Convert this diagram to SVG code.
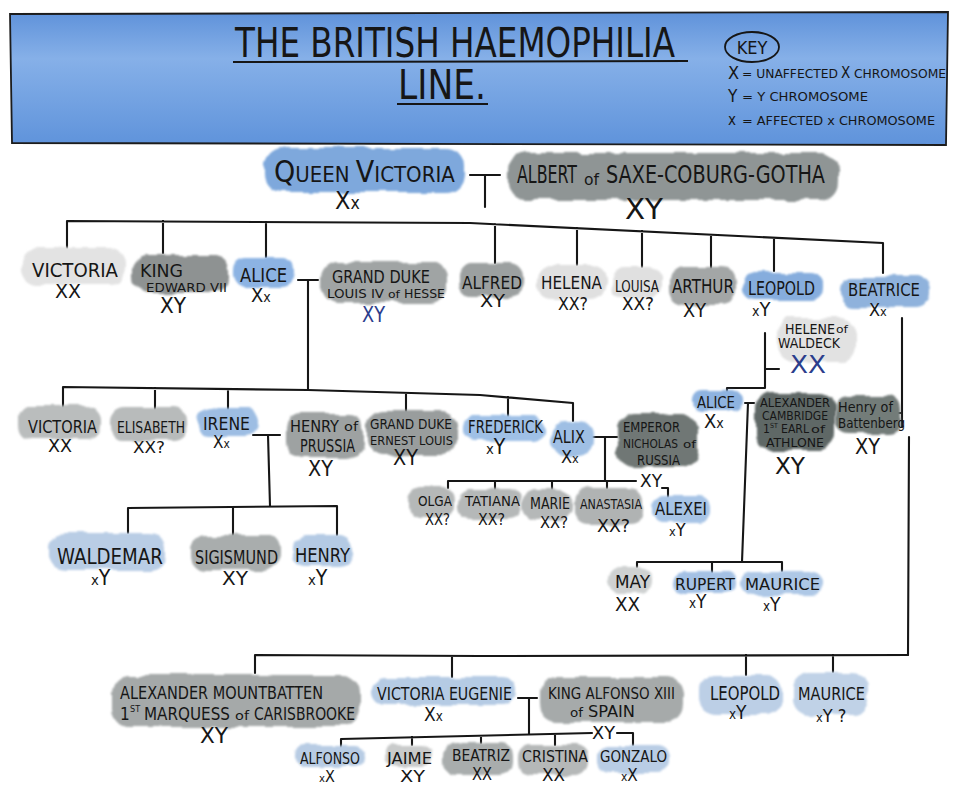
<svg xmlns="http://www.w3.org/2000/svg" width="956" height="787" viewBox="0 0 956 787">
<defs>
<linearGradient id="hdr" x1="0" y1="0" x2="0" y2="1">
<stop offset="0" stop-color="#5f92da"/>
<stop offset="0.35" stop-color="#86b0e8"/>
<stop offset="0.6" stop-color="#77a5e3"/>
<stop offset="1" stop-color="#5f93db"/>
</linearGradient>
<filter id="wc" x="-10%" y="-25%" width="120%" height="150%">
<feTurbulence type="fractalNoise" baseFrequency="0.045" numOctaves="2" seed="7" result="n"/>
<feDisplacementMap in="SourceGraphic" in2="n" scale="8" xChannelSelector="R" yChannelSelector="G" result="d"/>
<feGaussianBlur in="d" stdDeviation="0.9"/>
</filter>
</defs>
<style>
text{font-family:"DejaVu Sans Condensed","DejaVu Sans","Liberation Sans",sans-serif;fill:#161616;}
.b{filter:url(#wc);}
.sm{font-size:70%;}
.bl{fill:#2b3d8c;}
.c path{fill:none;stroke:#161616;stroke-width:2.1;stroke-linecap:round;stroke-linejoin:round;}
</style>
<rect width="956" height="787" fill="#ffffff"/>

<g id="header">
<path d="M10,14 L948,12 L946,145 L12,143 Z" fill="url(#hdr)" stroke="#1c1c1c" stroke-width="1.8"/>
<text x="235" y="57" font-size="40" textLength="440" lengthAdjust="spacingAndGlyphs">THE BRITISH HAEMOPHILIA</text>
<path d="M233,62 L688,61" stroke="#161616" stroke-width="2" fill="none"/>
<text x="398" y="99" font-size="40" textLength="88" lengthAdjust="spacingAndGlyphs">LINE.</text>
<path d="M397,104 L488,104" stroke="#161616" stroke-width="2" fill="none"/>
<ellipse cx="752" cy="47" rx="27" ry="15" fill="none" stroke="#161616" stroke-width="1.8"/>
<text x="752" y="54" font-size="18" text-anchor="middle">KEY</text>
<text x="728" y="79" font-size="18">X</text>
<text x="742" y="78" font-size="12" textLength="96" lengthAdjust="spacingAndGlyphs">= UNAFFECTED</text>
<text x="841" y="78" font-size="15">X</text>
<text x="854" y="78" font-size="12" textLength="92" lengthAdjust="spacingAndGlyphs">CHROMOSOME</text>
<text x="728" y="102" font-size="17">Y</text>
<text x="742" y="101" font-size="12" textLength="126" lengthAdjust="spacingAndGlyphs">= Y CHROMOSOME</text>
<text x="728" y="125" font-size="15">x</text>
<text x="742" y="125" font-size="12" textLength="193" lengthAdjust="spacingAndGlyphs">= AFFECTED x CHROMOSOME</text>
</g>

<g id="connectors" class="c">
<path d="M470,175 H500 M485,175 V207"/>
<path d="M67,248 V221 L470,223 L883,243 V273 M163,221 V253 M266,222 V257 M495,224 V263 M577,228 V265 M642,231 V267 M711,235 V268 M774,238 V271"/>
<path d="M298,280 H318 M308,280 V390"/>
<path d="M63,407 V387 L308,390 L480,395 L573,403 V421 M155,388 V409 M228,389 V409 M406,393 V411 M508,397 V416"/>
<path d="M253,435 H280 M268,435 L270,506"/>
<path d="M128,533 V508 L337,506 V535 M233,507 V535"/>
<path d="M593,437 H617 M605,437 V481"/>
<path d="M448,488 V481 H636 M495,481 V489 M552,481 V489 M607,481 V488 M662,488 H668 V497"/>
<path d="M765,333 V388 H727 V391 M765,369 H779"/>
<path d="M745,403 H754 M748,403 L742,562 M637,567 V562 H782 V571 M712,562 V572"/>
<path d="M902,318 V427 M895,413 H902 M909,437 L908,655"/>
<path d="M255,673 V655 L480,656 L908,655 M452,656 V677 M746,655 V675 M833,655 V672"/>
<path d="M518,698 H537 M529,698 V734"/>
<path d="M341,750 V739 L592,733 M412,737 V745 M481,736 V743 M555,735 V745 M617,733 H633 V745"/>
</g>

<g id="queen-victoria">
<rect class="b" x="265" y="148" width="200" height="44" rx="18" fill="#7ea8dc"/>
<text x="274" y="182" font-size="22"><tspan font-size="30">Q</tspan>UEEN <tspan font-size="30">V</tspan>ICTORIA</text>
<text x="335" y="209" font-size="25">X<tspan class="sm">x</tspan></text>
</g>
<g id="albert">
<rect class="b" x="508" y="153" width="330" height="47" rx="18" fill="#8f9595"/>
<text x="517" y="183" font-size="25" textLength="60" lengthAdjust="spacingAndGlyphs">ALBERT</text>
<text x="584" y="185" font-size="16" textLength="15" lengthAdjust="spacingAndGlyphs">of</text>
<text x="606" y="183" font-size="25" textLength="219" lengthAdjust="spacingAndGlyphs">SAXE-COBURG-GOTHA</text>
<text x="625" y="219" font-size="29" textLength="38" lengthAdjust="spacingAndGlyphs">XY</text>
</g>

<g id="victoria-1">
<rect class="b" x="22" y="247" width="104" height="38" rx="16" fill="#e3e3e3"/>
<text x="32" y="277" font-size="19" textLength="86" lengthAdjust="spacingAndGlyphs">VICTORIA</text>
<text x="55" y="298" font-size="19" textLength="26" lengthAdjust="spacingAndGlyphs">XX</text>
</g>
<g id="edward-vii">
<rect class="b" x="133" y="255" width="95" height="38" rx="15" fill="#8e9292"/>
<text x="140" y="277" font-size="18" textLength="43" lengthAdjust="spacingAndGlyphs">KING</text>
<text x="146" y="292" font-size="13" textLength="81" lengthAdjust="spacingAndGlyphs">EDWARD VII</text>
<text x="160" y="313" font-size="21" textLength="26" lengthAdjust="spacingAndGlyphs">XY</text>
</g>
<g id="alice-1">
<rect class="b" x="233" y="257" width="62" height="30" rx="13" fill="#8cb3e3"/>
<text x="240" y="282" font-size="19" textLength="47" lengthAdjust="spacingAndGlyphs">ALICE</text>
<text x="251" y="302" font-size="20">X<tspan class="sm">x</tspan></text>
</g>
<g id="louis-iv">
<rect class="b" x="322" y="262" width="125" height="41" rx="16" fill="#a0a4a4"/>
<text x="332" y="283" font-size="18" textLength="98" lengthAdjust="spacingAndGlyphs">GRAND DUKE</text>
<text x="327" y="298" font-size="13" textLength="57" lengthAdjust="spacingAndGlyphs">LOUIS IV</text>
<text x="388" y="298" font-size="11" textLength="12" lengthAdjust="spacingAndGlyphs">of</text>
<text x="404" y="298" font-size="13" textLength="41" lengthAdjust="spacingAndGlyphs">HESSE</text>
<text class="bl" x="362" y="322" font-size="21" textLength="23" lengthAdjust="spacingAndGlyphs">XY</text>
</g>
<g id="alfred">
<rect class="b" x="458" y="263" width="66" height="34" rx="14" fill="#9ca0a0"/>
<text x="462" y="289" font-size="18" textLength="60" lengthAdjust="spacingAndGlyphs">ALFRED</text>
<text x="480" y="307" font-size="18" textLength="25" lengthAdjust="spacingAndGlyphs">XY</text>
</g>
<g id="helena">
<rect class="b" x="537" y="265" width="68" height="34" rx="14" fill="#e0e0e0"/>
<text x="541" y="289" font-size="18" textLength="61" lengthAdjust="spacingAndGlyphs">HELENA</text>
<text x="558" y="310" font-size="17" textLength="30" lengthAdjust="spacingAndGlyphs">XX?</text>
</g>
<g id="louisa">
<rect class="b" x="611" y="267" width="50" height="32" rx="13" fill="#e0e0e0"/>
<text x="615" y="292" font-size="15" textLength="44" lengthAdjust="spacingAndGlyphs">LOUISA</text>
<text x="622" y="310" font-size="17" textLength="32" lengthAdjust="spacingAndGlyphs">XX?</text>
</g>
<g id="arthur">
<rect class="b" x="669" y="267" width="67" height="38" rx="15" fill="#a3a6a6"/>
<text x="672" y="293" font-size="19" textLength="62" lengthAdjust="spacingAndGlyphs">ARTHUR</text>
<text x="683" y="317" font-size="20" textLength="23" lengthAdjust="spacingAndGlyphs">XY</text>
</g>
<g id="leopold-1">
<rect class="b" x="743" y="272" width="80" height="28" rx="12" fill="#86addd"/>
<text x="748" y="295" font-size="19" textLength="67" lengthAdjust="spacingAndGlyphs">LEOPOLD</text>
<text x="752" y="316" font-size="20"><tspan class="sm">x</tspan>Y</text>
</g>
<g id="beatrice">
<rect class="b" x="840" y="277" width="90" height="30" rx="13" fill="#8fb2dc"/>
<text x="848" y="296" font-size="18" textLength="72" lengthAdjust="spacingAndGlyphs">BEATRICE</text>
<text x="869" y="316" font-size="18">X<tspan class="sm">x</tspan></text>
</g>

<g id="helene-of-waldeck">
<rect class="b" x="777" y="318" width="80" height="44" rx="16" fill="#e2e2e2"/>
<text x="785" y="334" font-size="14" textLength="50" lengthAdjust="spacingAndGlyphs">HELENE</text>
<text x="836" y="333" font-size="11" textLength="12" lengthAdjust="spacingAndGlyphs">of</text>
<text x="778" y="348" font-size="14" textLength="62" lengthAdjust="spacingAndGlyphs">WALDECK</text>
<text class="bl" x="790" y="373" font-size="25" font-weight="300" textLength="36" lengthAdjust="spacingAndGlyphs">XX</text>
</g>
<g id="alice-2">
<rect class="b" x="692" y="389" width="52" height="23" rx="11" fill="#8eb3e0"/>
<text x="697" y="408" font-size="16" textLength="38" lengthAdjust="spacingAndGlyphs">ALICE</text>
<text x="704" y="428" font-size="20">X<tspan class="sm">x</tspan></text>
</g>
<g id="alexander-cambridge">
<rect class="b" x="755" y="393" width="80" height="57" rx="16" fill="#5f6866"/>
<text x="760" y="407" font-size="12" textLength="70" lengthAdjust="spacingAndGlyphs">ALEXANDER</text>
<text x="762" y="420" font-size="12" textLength="66" lengthAdjust="spacingAndGlyphs">CAMBRIDGE</text>
<text x="763" y="433" font-size="12">1</text>
<text x="770" y="428" font-size="7">ST</text>
<text x="781" y="433" font-size="12" textLength="28" lengthAdjust="spacingAndGlyphs">EARL</text>
<text x="811" y="433" font-size="10" textLength="14" lengthAdjust="spacingAndGlyphs">of</text>
<text x="766" y="447" font-size="12" textLength="58" lengthAdjust="spacingAndGlyphs">ATHLONE</text>
<text x="775" y="474" font-size="23" textLength="30" lengthAdjust="spacingAndGlyphs">XY</text>
</g>
<g id="henry-of-battenberg">
<rect class="b" x="835" y="395" width="67" height="38" rx="14" fill="#737b79"/>
<text x="838" y="412" font-size="14" textLength="55" lengthAdjust="spacingAndGlyphs">Henry of</text>
<text x="838" y="428" font-size="14" textLength="67" lengthAdjust="spacingAndGlyphs">Battenberg</text>
<text x="855" y="454" font-size="21" textLength="25" lengthAdjust="spacingAndGlyphs">XY</text>
</g>

<g id="victoria-2">
<rect class="b" x="18" y="405" width="82" height="34" rx="14" fill="#babdbd"/>
<text x="28" y="433" font-size="17" textLength="69" lengthAdjust="spacingAndGlyphs">VICTORIA</text>
<text x="48" y="452" font-size="17" textLength="24" lengthAdjust="spacingAndGlyphs">XX</text>
</g>
<g id="elisabeth">
<rect class="b" x="110" y="407" width="77" height="34" rx="14" fill="#b8bbbb"/>
<text x="117" y="433" font-size="16" textLength="68" lengthAdjust="spacingAndGlyphs">ELISABETH</text>
<text x="133" y="453" font-size="16" textLength="32" lengthAdjust="spacingAndGlyphs">XX?</text>
</g>
<g id="irene">
<rect class="b" x="198" y="408" width="60" height="28" rx="12" fill="#9dbde3"/>
<text x="203" y="430" font-size="17" textLength="47" lengthAdjust="spacingAndGlyphs">IRENE</text>
<text x="213" y="448" font-size="17">X<tspan class="sm">x</tspan></text>
</g>
<g id="henry-of-prussia">
<rect class="b" x="287" y="413" width="76" height="44" rx="15" fill="#9ea2a2"/>
<text x="290" y="432" font-size="16" textLength="49" lengthAdjust="spacingAndGlyphs">HENRY</text>
<text x="344" y="431" font-size="13" textLength="14" lengthAdjust="spacingAndGlyphs">of</text>
<text x="300" y="452" font-size="17" textLength="55" lengthAdjust="spacingAndGlyphs">PRUSSIA</text>
<text x="308" y="476" font-size="21" textLength="25" lengthAdjust="spacingAndGlyphs">XY</text>
</g>
<g id="ernest-louis">
<rect class="b" x="367" y="410" width="90" height="45" rx="16" fill="#999d9d"/>
<text x="370" y="429" font-size="14" textLength="82" lengthAdjust="spacingAndGlyphs">GRAND DUKE</text>
<text x="370" y="445" font-size="13" textLength="83" lengthAdjust="spacingAndGlyphs">ERNEST LOUIS</text>
<text x="393" y="465" font-size="21" textLength="25" lengthAdjust="spacingAndGlyphs">XY</text>
</g>
<g id="frederick">
<rect class="b" x="463" y="416" width="81" height="25" rx="11" fill="#9fc0e6"/>
<text x="468" y="433" font-size="17" textLength="75" lengthAdjust="spacingAndGlyphs">FREDERICK</text>
<text x="486" y="454" font-size="21"><tspan class="sm">x</tspan>Y</text>
</g>
<g id="alix">
<rect class="b" x="550" y="422" width="43" height="33" rx="14" fill="#9fbfe4"/>
<text x="553" y="443" font-size="18" textLength="32" lengthAdjust="spacingAndGlyphs">ALIX</text>
<text x="561" y="463" font-size="18">X<tspan class="sm">x</tspan></text>
</g>
<g id="nicholas-ii">
<rect class="b" x="618" y="413" width="79" height="54" rx="16" fill="#6f7775"/>
<text x="623" y="432" font-size="14" textLength="57" lengthAdjust="spacingAndGlyphs">EMPEROR</text>
<text x="623" y="448" font-size="13" textLength="55" lengthAdjust="spacingAndGlyphs">NICHOLAS</text>
<text x="683" y="448" font-size="11" textLength="13" lengthAdjust="spacingAndGlyphs">of</text>
<text x="637" y="465" font-size="14" textLength="43" lengthAdjust="spacingAndGlyphs">RUSSIA</text>
<text x="640" y="487" font-size="18" textLength="22" lengthAdjust="spacingAndGlyphs">XY</text>
</g>
<g id="olga">
<rect class="b" x="408" y="487" width="47" height="31" rx="13" fill="#b5b8b8"/>
<text x="418" y="506" font-size="14" textLength="34" lengthAdjust="spacingAndGlyphs">OLGA</text>
<text x="425" y="525" font-size="16" textLength="25" lengthAdjust="spacingAndGlyphs">XX?</text>
</g>
<g id="tatiana">
<rect class="b" x="458" y="489" width="64" height="30" rx="13" fill="#b5b8b8"/>
<text x="465" y="506" font-size="14" textLength="55" lengthAdjust="spacingAndGlyphs">TATIANA</text>
<text x="478" y="525" font-size="16" textLength="27" lengthAdjust="spacingAndGlyphs">XX?</text>
</g>
<g id="marie">
<rect class="b" x="523" y="489" width="50" height="31" rx="13" fill="#b5b8b8"/>
<text x="530" y="509" font-size="15" textLength="40" lengthAdjust="spacingAndGlyphs">MARIE</text>
<text x="540" y="528" font-size="16" textLength="28" lengthAdjust="spacingAndGlyphs">XX?</text>
</g>
<g id="anastasia">
<rect class="b" x="575" y="488" width="68" height="37" rx="14" fill="#b0b3b3"/>
<text x="580" y="509" font-size="14" textLength="62" lengthAdjust="spacingAndGlyphs">ANASTASIA</text>
<text x="597" y="532" font-size="17" textLength="33" lengthAdjust="spacingAndGlyphs">XX?</text>
</g>
<g id="alexei">
<rect class="b" x="652" y="497" width="58" height="25" rx="11" fill="#a7c4e6"/>
<text x="655" y="515" font-size="17" textLength="52" lengthAdjust="spacingAndGlyphs">ALEXEI</text>
<text x="669" y="536" font-size="18"><tspan class="sm">x</tspan>Y</text>
</g>

<g id="waldemar">
<rect class="b" x="50" y="533" width="115" height="37" rx="15" fill="#b9cde5"/>
<text x="57" y="564" font-size="21" textLength="106" lengthAdjust="spacingAndGlyphs">WALDEMAR</text>
<text x="91" y="585" font-size="21"><tspan class="sm">x</tspan>Y</text>
</g>
<g id="sigismund">
<rect class="b" x="192" y="535" width="88" height="35" rx="15" fill="#a9adad"/>
<text x="195" y="564" font-size="19" textLength="83" lengthAdjust="spacingAndGlyphs">SIGISMUND</text>
<text x="222" y="585" font-size="20" textLength="26" lengthAdjust="spacingAndGlyphs">XY</text>
</g>
<g id="henry-of-hesse">
<rect class="b" x="293" y="535" width="60" height="32" rx="13" fill="#b4cae4"/>
<text x="295" y="562" font-size="20" textLength="55" lengthAdjust="spacingAndGlyphs">HENRY</text>
<text x="308" y="585" font-size="21"><tspan class="sm">x</tspan>Y</text>
</g>

<g id="may">
<rect class="b" x="607" y="567" width="45" height="26" rx="12" fill="#cfd1d1"/>
<text x="615" y="588" font-size="17" textLength="35" lengthAdjust="spacingAndGlyphs">MAY</text>
<text x="615" y="611" font-size="19" textLength="25" lengthAdjust="spacingAndGlyphs">XX</text>
</g>
<g id="rupert">
<rect class="b" x="673" y="572" width="64" height="21" rx="10" fill="#a4c1e4"/>
<text x="675" y="590" font-size="16" textLength="60" lengthAdjust="spacingAndGlyphs">RUPERT</text>
<text x="689" y="608" font-size="19"><tspan class="sm">x</tspan>Y</text>
</g>
<g id="maurice-1">
<rect class="b" x="742" y="572" width="81" height="23" rx="11" fill="#aec8e6"/>
<text x="745" y="590" font-size="16" textLength="75" lengthAdjust="spacingAndGlyphs">MAURICE</text>
<text x="763" y="611" font-size="19"><tspan class="sm">x</tspan>Y</text>
</g>

<g id="alexander-mountbatten">
<rect class="b" x="112" y="675" width="248" height="52" rx="18" fill="#a5a9a9"/>
<text x="120" y="699" font-size="17" textLength="203" lengthAdjust="spacingAndGlyphs">ALEXANDER MOUNTBATTEN</text>
<text x="120" y="720" font-size="17">1</text>
<text x="130" y="712" font-size="9">ST</text>
<text x="144" y="720" font-size="17" textLength="86" lengthAdjust="spacingAndGlyphs">MARQUESS</text>
<text x="235" y="720" font-size="13" textLength="14" lengthAdjust="spacingAndGlyphs">of</text>
<text x="254" y="720" font-size="17" textLength="101" lengthAdjust="spacingAndGlyphs">CARISBROOKE</text>
<text x="200" y="743" font-size="21" textLength="28" lengthAdjust="spacingAndGlyphs">XY</text>
</g>
<g id="victoria-eugenie">
<rect class="b" x="372" y="677" width="143" height="28" rx="13" fill="#b5cbe4"/>
<text x="377" y="700" font-size="17" textLength="135" lengthAdjust="spacingAndGlyphs">VICTORIA EUGENIE</text>
<text x="424" y="721" font-size="19">X<tspan class="sm">x</tspan></text>
</g>
<g id="alfonso-xiii">
<rect class="b" x="540" y="677" width="143" height="45" rx="17" fill="#a6aaaa"/>
<text x="548" y="699" font-size="16" textLength="127" lengthAdjust="spacingAndGlyphs">KING ALFONSO XIII</text>
<text x="570" y="717" font-size="12" textLength="13" lengthAdjust="spacingAndGlyphs">of</text>
<text x="588" y="717" font-size="15" textLength="47" lengthAdjust="spacingAndGlyphs">SPAIN</text>
<text x="592" y="739" font-size="17" textLength="23" lengthAdjust="spacingAndGlyphs">XY</text>
</g>
<g id="leopold-2">
<rect class="b" x="700" y="675" width="82" height="40" rx="16" fill="#bccfe6"/>
<text x="710" y="700" font-size="19" textLength="70" lengthAdjust="spacingAndGlyphs">LEOPOLD</text>
<text x="729" y="719" font-size="19"><tspan class="sm">x</tspan>Y</text>
</g>
<g id="maurice-2">
<rect class="b" x="793" y="672" width="75" height="43" rx="16" fill="#c0d2e7"/>
<text x="798" y="700" font-size="17" textLength="67" lengthAdjust="spacingAndGlyphs">MAURICE</text>
<text x="816" y="722" font-size="18"><tspan class="sm">x</tspan>Y ?</text>
</g>
<g id="alfonso">
<rect class="b" x="295" y="745" width="70" height="22" rx="10" fill="#b8cce4"/>
<text x="300" y="764" font-size="16" textLength="60" lengthAdjust="spacingAndGlyphs">ALFONSO</text>
<text x="319" y="782" font-size="16"><tspan class="sm">x</tspan>X</text>
</g>
<g id="jaime">
<rect class="b" x="385" y="745" width="48" height="22" rx="10" fill="#c9cbcb"/>
<text x="387" y="764" font-size="16" textLength="45" lengthAdjust="spacingAndGlyphs">JAIME</text>
<text x="400" y="782" font-size="16" textLength="25" lengthAdjust="spacingAndGlyphs">XY</text>
</g>
<g id="beatriz">
<rect class="b" x="443" y="743" width="70" height="32" rx="13" fill="#a9adad"/>
<text x="452" y="761" font-size="16" textLength="58" lengthAdjust="spacingAndGlyphs">BEATRIZ</text>
<text x="472" y="780" font-size="17" textLength="20" lengthAdjust="spacingAndGlyphs">XX</text>
</g>
<g id="cristina">
<rect class="b" x="518" y="745" width="70" height="30" rx="13" fill="#b5b8b8"/>
<text x="522" y="762" font-size="16" textLength="66" lengthAdjust="spacingAndGlyphs">CRISTINA</text>
<text x="542" y="781" font-size="17" textLength="23" lengthAdjust="spacingAndGlyphs">XX</text>
</g>
<g id="gonzalo">
<rect class="b" x="597" y="745" width="73" height="28" rx="12" fill="#b9cde5"/>
<text x="600" y="762" font-size="16" textLength="67" lengthAdjust="spacingAndGlyphs">GONZALO</text>
<text x="621" y="781" font-size="17"><tspan class="sm">x</tspan>X</text>
</g>
</svg>
